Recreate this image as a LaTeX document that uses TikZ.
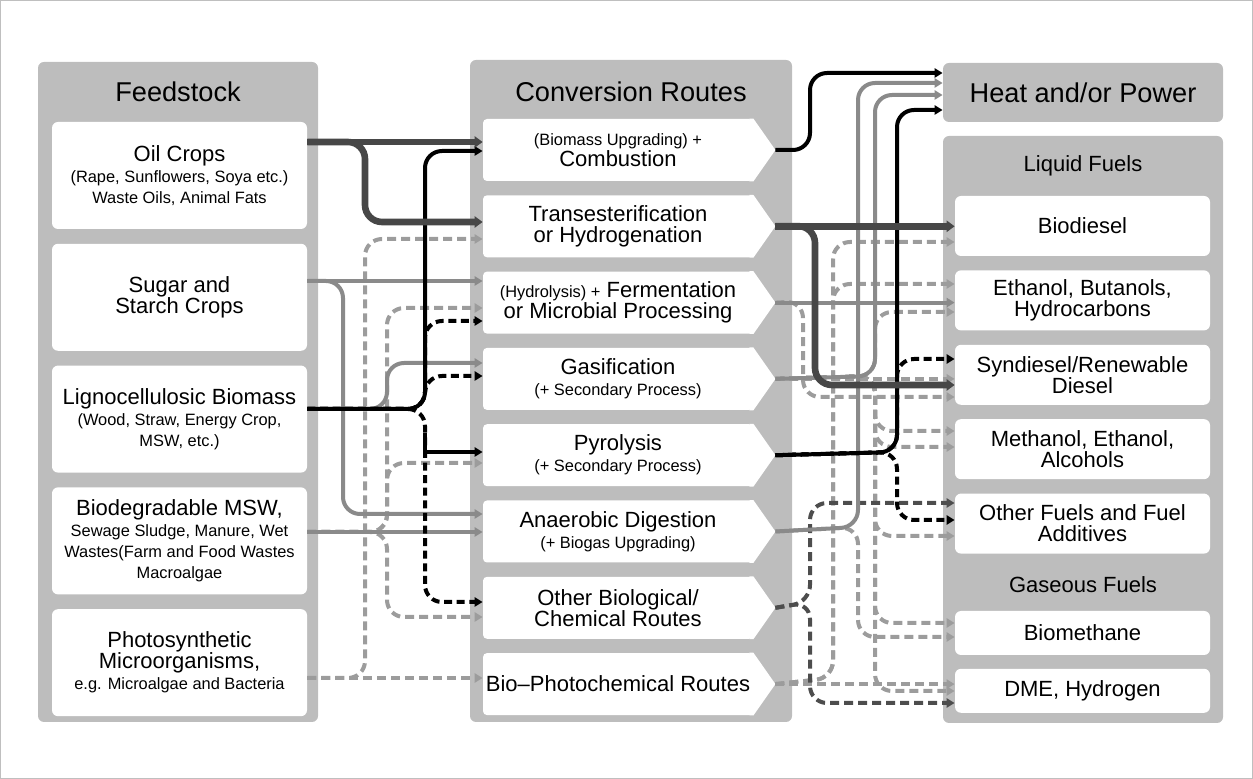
\documentclass[tikz,border=0pt]{standalone}
\usepackage{fontspec}
\setmainfont{Liberation Sans}
\usetikzlibrary{positioning, arrows.meta}

\definecolor{panelgray}{HTML}{BDBDBD}
\definecolor{oilgray}{HTML}{474747}
\definecolor{solidgray}{HTML}{8A8A8A}
\definecolor{dashgray}{HTML}{9C9C9C}
\definecolor{darkdash}{HTML}{4D4D4D}

\newcommand{\smalltxt}{\fontsize{8.2}{10.5}\selectfont}

\begin{document}
\begin{tikzpicture}[
    x=0.5pt, y=-0.5pt,
    font=\fontsize{11}{10.5}\selectfont,
    every node/.style={align=center, inner sep=0pt},
    %% grey column behind each group of boxes
    panel/.style={fill=panelgray, rounded corners=3pt},
    head/.style={font=\fontsize{13.6}{15}\selectfont},
    %% white boxes
    feed/.style={fill=white, rounded corners=3pt,
        minimum width=127.5pt, minimum height=53.5pt},
    %% route box: white rectangle with a pointed right end
    route/.style={fill=white, rounded corners=2pt,
        minimum width=135pt, minimum height=31pt,
        append after command={\pgfextra{
            \fill[white, sharp corners] ([xshift=-2pt]\tikzlastnode.north east)
                -- (\tikzlastnode.north east) -- ([xshift=11pt]\tikzlastnode.east)
                -- (\tikzlastnode.south east) -- ([xshift=-2pt]\tikzlastnode.south east) -- cycle;}}},
    fuel/.style={fill=white, rounded corners=3pt,
        minimum width=127.5pt, minimum height=30pt},
    gas/.style={fuel, minimum height=22pt},
    %% connectors
    flowtip/.style={-{Triangle[length=4pt, width=4.6pt]}},
    oilflow/.style={draw=oilgray, line width=3.3pt, rounded corners=8.5pt,
        -{Triangle[length=4pt, width=5.6pt]}},
    ligflow/.style={flowtip, draw=black, line width=2pt, rounded corners=8.5pt},
    grayflow/.style={flowtip, draw=solidgray, line width=2pt, rounded corners=8.5pt},
    ligdash/.style={ligflow, dash pattern=on 4pt off 2.3pt},
    graydash/.style={grayflow, draw=dashgray, dash pattern=on 4.5pt off 2.5pt},
    darkdashed/.style={grayflow, draw=darkdash, dash pattern=on 4.5pt off 2.5pt}
]
\useasboundingbox (0,0) rectangle (1253,779);
\draw[black!25, line width=0.6pt] (0.5,0.5) rectangle (1252.5,778.5);

%%-------------------------------------------------------------- panels
\node[panel, minimum width=140pt, minimum height=330pt]   (fpanel)    at (178,392) {};
\node[panel, minimum width=161pt, minimum height=331pt]   (cpanel)    at (631,391) {};
\node[panel, minimum width=140pt, minimum height=29.5pt, head] (hp)  at (1083,92.5) {Heat and/or Power};
\node[panel, minimum width=140pt, minimum height=293.5pt] (fuelpanel) at (1083,429.5) {};

\node[head] (fhead) at (178,92)  {Feedstock};
\node[head] (chead) at (631,92)  {Conversion Routes};
\node       (lhead) at (1083,166) {Liquid Fuels};
\node       (ghead) at (1083,585) {Gaseous Fuels};

%%-------------------------------------------------------------- feedstock
\node[feed]                        (oil)   at (179.5,175.5)
    {Oil Crops\\\smalltxt (Rape, Sunflowers, Soya etc.)\\\smalltxt Waste Oils, Animal Fats};
\node[feed, below=7pt of oil]      (sugar) {Sugar and\\Starch Crops};
\node[feed, below=7pt of sugar]    (ligno)
    {Lignocellulosic Biomass\\\smalltxt (Wood, Straw, Energy Crop,\\\smalltxt MSW, etc.)};
\node[feed, below=7pt of ligno]    (msw)
    {Biodegradable MSW,\\\smalltxt Sewage Sludge, Manure, Wet\\\smalltxt Wastes(Farm and Food Wastes\\\smalltxt Macroalgae};
\node[feed, below=7pt of msw]      (micro)
    {Photosynthetic\\Microorganisms,\\\smalltxt e.g. Microalgae and Bacteria};

%%-------------------------------------------------------------- conversion routes
\node[route]                        (comb)     at (618,150)
    {\smalltxt (Biomass Upgrading) +\\Combustion};
\node[route, below=6.75pt of comb]  (trans)    {Transesterification\\or Hydrogenation};
\node[route, below=6.75pt of trans] (ferm)
    {{\smalltxt (Hydrolysis) +} Fermentation\\or Microbial Processing};
\node[route, below=6.75pt of ferm]  (gasif)    {Gasification\\\smalltxt (+ Secondary Process)};
\node[route, below=6.75pt of gasif] (pyro)     {Pyrolysis\\\smalltxt (+ Secondary Process)};
\node[route, below=6.75pt of pyro]  (anaer)    {Anaerobic Digestion\\\smalltxt (+ Biogas Upgrading)};
\node[route, below=6.75pt of anaer] (otherbio) {Other Biological/\\Chemical Routes};
\node[route, below=6.75pt of otherbio] (photo)  {Bio–Photochemical Routes};

%%-------------------------------------------------------------- products
\node[fuel]                           (biodsl)  at (1082.5,226) {Biodiesel};
\node[fuel, below=6.8pt of biodsl]    (ethnl)   {Ethanol, Butanols,\\Hydrocarbons};
\node[fuel, below=6.8pt of ethnl]     (syndsl)  {Syndiesel/Renewable\\Diesel};
\node[fuel, below=6.8pt of syndsl]    (methnl)  {Methanol, Ethanol,\\Alcohols};
\node[fuel, below=6.8pt of methnl]    (othfuel) {Other Fuels and Fuel\\Additives};
\node[gas]                            (biomth)  at (1082.5,633) {Biomethane};
\node[gas,  below=6.5pt of biomth]    (dme)     {DME, Hydrogen};

%%-------------------------------------------------------------- feedstock -> routes
% developing routes first, so that the commercial ones lie on top
\draw[graydash] (micro.east |- 0,678) -- (photo.west |- 0,678);
\draw[graydash] (micro.east |- 0,678) -- (365,678) -- (365,239) -- (trans.west |- 0,239);
\draw[graydash] (msw.east |- 0,532) -- (387,532) -- (387,308) -- (ferm.west |- 0,308);
\draw[graydash] (msw.east |- 0,532) -- (387,532) -- (387,463) -- (pyro.west |- 0,463);
\draw[graydash] (msw.east |- 0,532) -- (387,532) -- (387,617) -- (otherbio.west |- 0,617);

\draw[grayflow] (ligno.east |- 0,409) -- (387,409) -- (387,363) -- (gasif.west |- 0,363);
\draw[grayflow] (sugar.east |- 0,281) -- (ferm.west |- 0,281);
\draw[grayflow] (sugar.east |- 0,281) -- (343,281) -- (343,514) -- (anaer.west |- 0,514);
\draw[grayflow] (msw.east |- 0,532) -- (anaer.west |- 0,532);

\draw[ligdash] (ligno.east |- 0,409) -- (425,409) -- (425,321) -- (ferm.west |- 0,321);
\draw[ligdash] (ligno.east |- 0,409) -- (425,409) -- (425,376) -- (gasif.west |- 0,376);
\draw[ligdash] (ligno.east |- 0,409) -- (425,409) -- (425,602) -- (otherbio.west |- 0,602);
\draw[ligflow] (ligno.east |- 0,409) -- (425,409) -- (425,151) -- (comb.west |- 0,151);
\draw[ligflow, sharp corners] (425,433) -- (425,452) -- (pyro.west |- 0,452);

\draw[oilflow] (oil.east |- 0,142) -- (comb.west |- 0,142);
\draw[oilflow] (oil.east |- 0,142) -- (365,142) -- (365,222) -- (trans.west |- 0,222);

%%-------------------------------------------------------------- routes -> products
\draw[graydash] ([xshift=11pt]photo.east) -- (photo.east -| dme.west);
\draw[graydash] ([xshift=11pt]photo.east) -- (833,678) -- (833,242) -- (biodsl.west |- 0,242);
\draw[graydash] ([xshift=11pt]photo.east) -- (833,678) -- (833,284) -- (ethnl.west |- 0,284);
\draw[graydash] ([xshift=11pt]ferm.east) -- (803,301) -- (803,397) -- (syndsl.west |- 0,397);
\draw[graydash] ([xshift=11pt]gasif.east) -- (gasif.east -| syndsl.west);
\draw[graydash] ([xshift=11pt]gasif.east) -- (875,376) -- (875,312) -- (ethnl.west |- 0,312);
\draw[graydash] ([xshift=11pt]gasif.east) -- (875,376) -- (875,431) -- (methnl.west |- 0,431);
\draw[graydash] ([xshift=11pt]gasif.east) -- (875,376) -- (875,447) -- (methnl.west |- 0,447);
\draw[graydash] ([xshift=11pt]gasif.east) -- (875,376) -- (875,536) -- (othfuel.west |- 0,536);
\draw[graydash] ([xshift=11pt]gasif.east) -- (875,376) -- (875,623) -- (biomth.west |- 0,623);
\draw[graydash] ([xshift=11pt]gasif.east) -- (875,376) -- (875,691) -- (dme.west |- 0,691);
\draw[graydash] ([xshift=11pt]anaer.east) -- (858,527) -- (858,637) -- (biomth.west |- 0,637);
\draw[darkdashed] ([xshift=11pt]otherbio.east) -- (810,602) -- (810,503) -- (othfuel.west |- 0,503);
\draw[darkdashed] ([xshift=11pt]otherbio.east) -- (810,602) -- (810,703) -- (dme.west |- 0,703);

\draw[grayflow] ([xshift=11pt]ferm.east) -- (ferm.east -| ethnl.west);
\draw[grayflow] ([xshift=11pt]gasif.east) -- (875,376) -- (875,95) -- (hp.west |- 0,95);
\draw[grayflow] ([xshift=11pt]anaer.east) -- (858,527) -- (858,83) -- (hp.west |- 0,83);

\draw[ligdash] ([xshift=11pt]pyro.east) -- (897,452) -- (897,359) -- (syndsl.west |- 0,359);
\draw[ligdash] ([xshift=11pt]pyro.east) -- (897,452) -- (897,520) -- (othfuel.west |- 0,520);
\draw[ligflow] ([xshift=11pt]pyro.east) -- (897,452) -- (897,110) -- (hp.west |- 0,110);
\draw[ligflow] ([xshift=11pt]comb.east) -- (810,150) -- (810,73) -- (hp.west |- 0,73);

\draw[oilflow] ([xshift=11pt]trans.east) -- (trans.east -| biodsl.west);
\draw[oilflow] ([xshift=11pt]trans.east) -- (815,226) -- (815,385) -- (syndsl.west |- 0,385);

\end{tikzpicture}
\end{document}
